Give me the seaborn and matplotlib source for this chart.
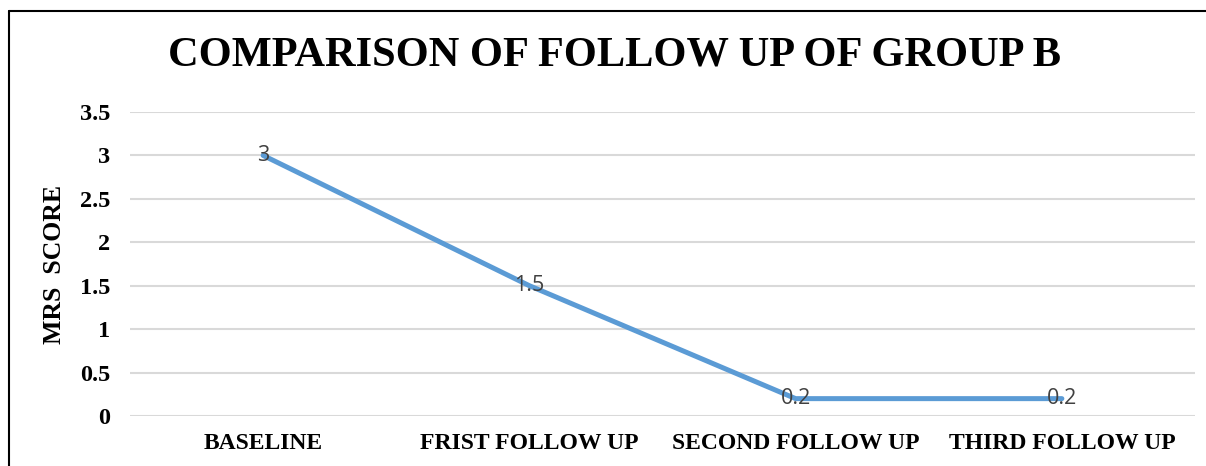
import matplotlib
matplotlib.use("Agg")
import matplotlib.pyplot as plt
import seaborn as sns
import pandas as pd
from matplotlib.lines import Line2D

# chart data
stages = ["BASELINE", "FRIST FOLLOW UP", "SECOND FOLLOW UP", "THIRD FOLLOW UP"]
mrs_score = [3, 1.5, 0.2, 0.2]
y_ticks = [0, 0.5, 1, 1.5, 2, 2.5, 3, 3.5]
y_ticklabels = ["0", "0.5", "1", "1.5", "2", "2.5", "3", "3.5"]

df = pd.DataFrame({"stage": stages, "score": mrs_score})

sns.set_theme(style="white")
plt.rcParams["font.family"] = ["Liberation Serif", "DejaVu Serif"]
plt.rcParams["text.color"] = "black"
plt.rcParams["xtick.color"] = "black"
plt.rcParams["ytick.color"] = "black"
plt.rcParams["axes.labelcolor"] = "black"

W, H = 1206, 466
fig = plt.figure(figsize=(W / 100, H / 100), dpi=100)
ax = fig.add_axes([130 / W, 1 - 416 / H, (1195 - 130) / W, (416 - 112) / H])

sns.lineplot(data=df, x="stage", y="score", ax=ax, color="#5B9BD5",
             linewidth=3.6, sort=False, solid_capstyle="round")

# data labels
for i, v in enumerate(mrs_score):
    ax.text(i, v, f"{v:g}", ha="center", va="center", fontsize=15.5,
            color="#404040", family=["Open Sans", "DejaVu Sans"])

ax.set_xlim(-0.5, len(stages) - 0.5)
ax.set_ylim(0, 3.5)
ax.set_yticks(y_ticks)
ax.set_yticklabels(y_ticklabels, fontsize=17.5, fontweight="bold")
ax.set_xticks(range(len(stages)))
ax.set_xticklabels(stages, fontsize=17, fontweight="bold")
ax.tick_params(axis="y", length=0, pad=14)
ax.tick_params(axis="x", length=0, pad=12)
ax.yaxis.grid(True, color="#D9D9D9", linewidth=1.5)
ax.set_axisbelow(True)
sns.despine(ax=ax, left=True, bottom=True)
ax.set_xlabel("")
ax.set_ylabel("MRS  SCORE", fontsize=18.5, fontweight="bold")
ax.yaxis.set_label_coords(-64 / (1195 - 130), 0.5)

fig.text(615 / W, 1 - 55 / H, "COMPARISON OF FOLLOW UP OF GROUP B",
         ha="center", va="center", fontsize=30.5, fontweight="bold")

# outer frame
fig.add_artist(Line2D([8.5 / W, 8.5 / W], [0, 1 - 10.5 / H], color="black",
                      linewidth=1.5, transform=fig.transFigure))
fig.add_artist(Line2D([8.5 / W, 1], [1 - 10.5 / H, 1 - 10.5 / H], color="black",
                      linewidth=1.5, transform=fig.transFigure))

fig.savefig("out.png", dpi=100)
